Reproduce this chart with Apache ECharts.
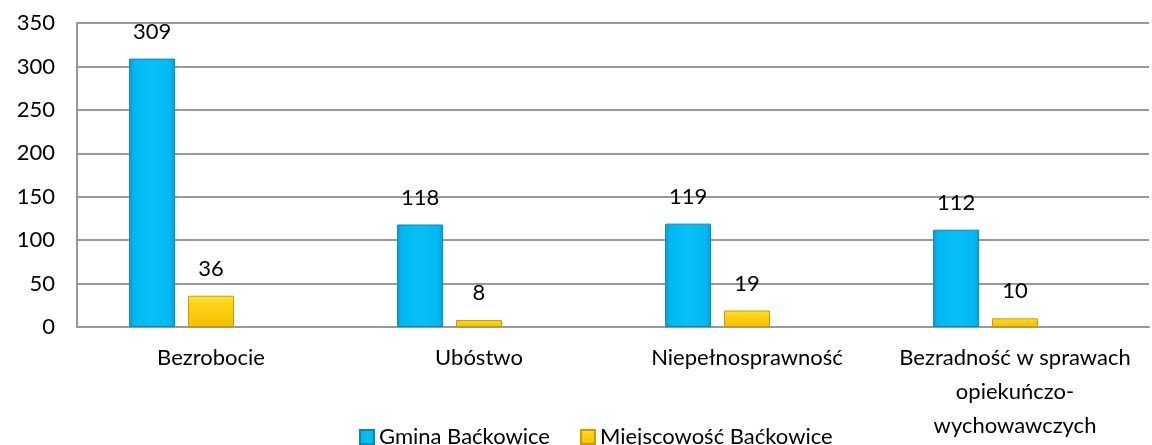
<!DOCTYPE html>
<html>
<head>
<meta charset="utf-8">
<script src="https://cdn.jsdelivr.net/npm/echarts@6/dist/echarts.min.js"></script>
<style>
  html, body { margin: 0; padding: 0; background: #fff; }
  #chart { width: 1152px; height: 445px; }
</style>
</head>
<body>
<div id="chart"></div>
<script>
var categories = ["Bezrobocie", "Ubóstwo", "Niepełnosprawność", "Bezradność w sprawach\nopiekuńczo-\nwychowawczych"];
var gmina = [309, 118, 119, 112];
var miejscowosc = [36, 8, 19, 10];
var spacer = [null, null, null, null];   // empty third series, keeps bars left of centre like the original
var yTicks = [0, 50, 100, 150, 200, 250, 300, 350];

var blue = new echarts.graphic.LinearGradient(0, 0, 1, 0, [
  {offset: 0, color: "#0a9fd6"},
  {offset: 0.12, color: "#00b8f2"},
  {offset: 0.5, color: "#08c0f6"},
  {offset: 0.88, color: "#00b8f2"},
  {offset: 1, color: "#0a9fd6"}
]);
var yellow = new echarts.graphic.LinearGradient(0, 0, 0, 1, [
  {offset: 0, color: "#ffe640"},
  {offset: 0.25, color: "#ffd21a"},
  {offset: 1, color: "#f5c000"}
]);

var chart = echarts.init(document.getElementById("chart"));
chart.setOption({
  animation: false,
  textStyle: {fontFamily: "Lato", color: "#000"},
  grid: {left: 77, right: 3, top: 23, bottom: 118},
  legend: {
    left: 354, top: 421,
    itemWidth: 14, itemHeight: 14, itemGap: 30,
    textStyle: {fontSize: 22, color: "#000", fontFamily: "Lato"},
    data: [
      {name: "Gmina Baćkowice", icon: "rect"},
      {name: "Miejscowość Baćkowice", icon: "rect"}
    ]
  },
  xAxis: {
    type: "category",
    data: categories,
    axisLine: {lineStyle: {color: "#999", width: 2}},
    axisTick: {show: false},
    axisLabel: {fontSize: 22, color: "#000", lineHeight: 34, margin: 14, interval: 0}
  },
  yAxis: {
    type: "value",
    min: yTicks[0], max: yTicks[yTicks.length - 1], interval: 50,
    axisLine: {show: true, lineStyle: {color: "#999", width: 2}},
    axisTick: {show: false},
    splitLine: {lineStyle: {color: "#999", width: 2}},
    axisLabel: {fontSize: 22, color: "#000", margin: 22}
  },
  series: [
    {
      name: "Gmina Baćkowice", type: "bar", data: gmina,
      barWidth: 46, barGap: "28%",
      itemStyle: {color: blue, borderColor: "#0b86b8", borderWidth: 1},
      label: {show: true, position: "top", distance: 16, fontSize: 22, color: "#000"}
    },
    {
      name: "Miejscowość Baćkowice", type: "bar", data: miejscowosc,
      barWidth: 46, barGap: "28%",
      itemStyle: {color: yellow, borderColor: "#c99a00", borderWidth: 1},
      label: {show: true, position: "top", distance: 16, fontSize: 22, color: "#000"}
    },
    {
      name: "", type: "bar", data: spacer,
      barWidth: 46, barGap: "28%"
    }
  ]
});
</script>
</body>
</html>
